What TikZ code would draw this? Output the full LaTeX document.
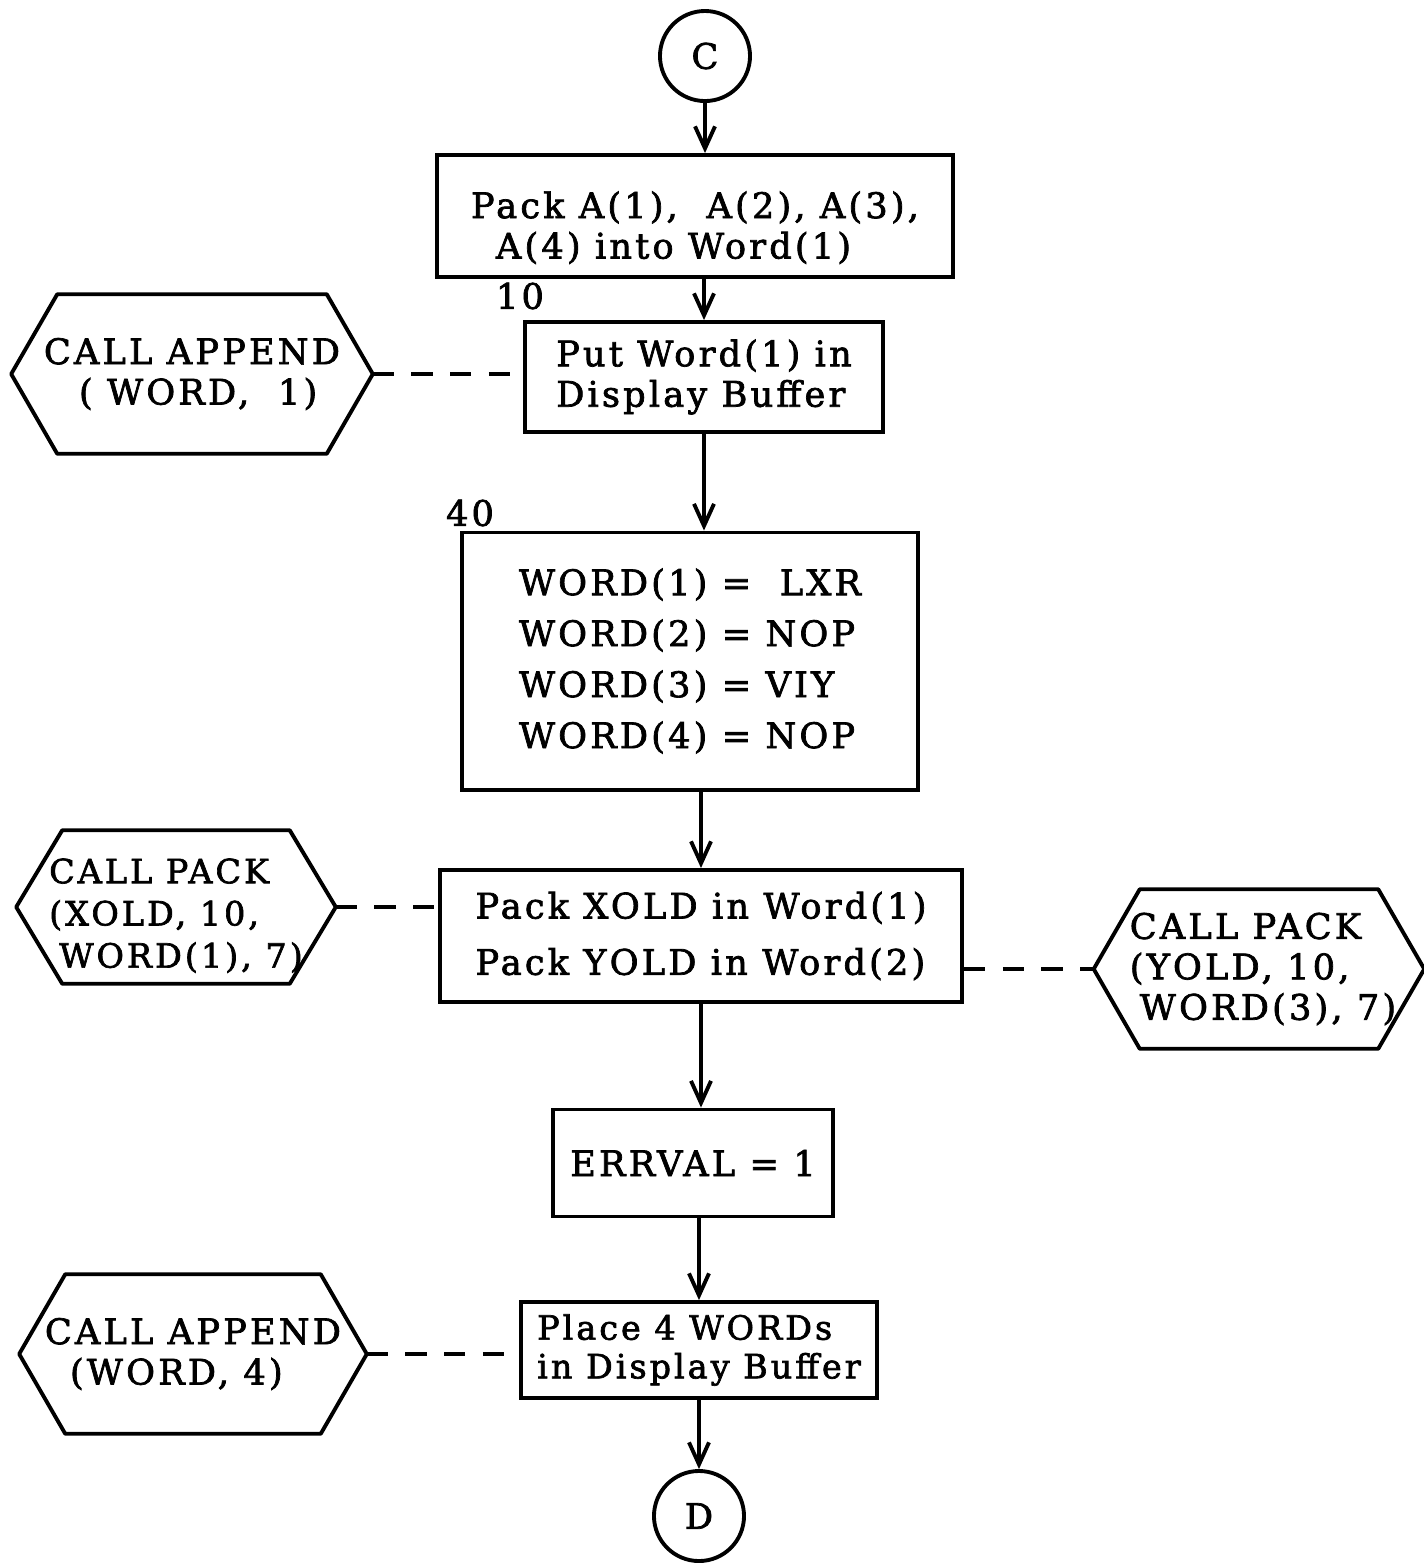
\documentclass[tikz,border=0pt]{standalone}
\usepackage{fontspec}
\setmainfont{DejaVu Serif}[LetterSpace=9,FakeBold=2]
\usetikzlibrary{arrows.meta}

\tikzset{
  box/.style={draw, rectangle, line width=1.1pt, align=left, inner sep=0pt},
  callbox/.style={rectangle, align=left, inner sep=0pt},
  offpage/.style={draw, circle, line width=1.1pt, minimum size=0.9cm, inner sep=0pt},
  conn/.style={line width=1.1pt, -{Straight Barb[length=2.2mm,width=2mm]}},
  callline/.style={line width=1.1pt, dash pattern=on 6pt off 5pt},
}

% hexagon round a call node, pointed left and right
\newcommand{\callhex}[1]{%
  \draw[line width=1.1pt, line join=round] (#1.west)
    -- ([xshift=0.46cm]#1.north west) -- ([xshift=-0.46cm]#1.north east)
    -- (#1.east)
    -- ([xshift=-0.46cm]#1.south east) -- ([xshift=0.46cm]#1.south west)
    -- cycle;}

\begin{document}
\begin{tikzpicture}[x=0.01cm, y=-0.01cm, font=\fontsize{10}{11.5}\selectfont]
      \useasboundingbox (0,0) rectangle (1424,1565);
      % main column
      \draw
        (705,56) node[offpage] (c){C}
        (695,216) node[box, minimum width=5.15cm, minimum height=1.22cm] (pack)
          {\rule{0pt}{0.5cm}Pack A(1),~ A(2), A(3),\\\hspace*{0.25cm}A(4) into Word(1)}
        (704,377) node[box, minimum width=3.58cm, minimum height=1.10cm] (put)
          {Put Word(1) in\\Display Buffer}
        (690,661) node[box, minimum width=4.56cm, minimum height=2.57cm] (words)
          {WORD(1) = ~LXR\\[3pt]WORD(2) = NOP\\[3pt]WORD(3) = VIY\\[3pt]WORD(4) = NOP}
        (701,936) node[box, minimum width=5.22cm, minimum height=1.32cm] (packxy)
          {Pack XOLD in Word(1)\\[4.5pt]Pack YOLD in Word(2)}
        (693,1163) node[box, minimum width=2.80cm, minimum height=1.07cm] (errval)
          {ERRVAL = 1}
        (699,1350) node[box, minimum width=3.56cm, minimum height=0.96cm,
          font=\fontsize{9.5}{11}\selectfont] (place)
          {Place 4 WORDs\\in Display Buffer}
        (699,1516) node[offpage] (d){D};
      % statement labels
      \draw
        (520,296) node (n10){10}
        (470,513) node (n40){40};
      % subroutine calls
      \draw
        (192,374) node[callbox, minimum width=3.60cm, minimum height=1.58cm] (app1)
          {CALL APPEND\\\hspace*{0.35cm}( WORD,~ 1)}
        (176,907) node[callbox, minimum width=3.18cm, minimum height=1.52cm,
          font=\fontsize{9.5}{12}\selectfont] (packx)
          {\rule{0pt}{0.42cm}CALL PACK\\(XOLD, 10,\\\hspace*{0.1cm}WORD(1), 7)}
        (1259,969) node[callbox, minimum width=3.29cm, minimum height=1.58cm] (packy)
          {\hspace*{0.08cm}CALL PACK\\\hspace*{0.08cm}(YOLD, 10,\\\hspace*{0.18cm}WORD(3), 7)}
        (193,1354) node[callbox, minimum width=3.46cm, minimum height=1.58cm] (app4)
          {CALL APPEND\\\hspace*{0.25cm}(WORD, 4)};
      \callhex{app1}
      \callhex{packx}
      \callhex{packy}
      \callhex{app4}
      \begin{scope}[conn]
        \draw (c) -- (c |- pack.north);
        \draw (put.north |- pack.south) -- (put.north);
        \draw (put.south) -- (put.south |- words.north);
        \draw (packxy.north |- words.south) -- (packxy.north);
        \draw (packxy.south) -- (packxy.south |- errval.north);
        \draw (place.north |- errval.south) -- (place.north);
        \draw (place.south) -- (d.north);
      \end{scope}
      \begin{scope}[callline]
        \draw (app1.east) -- (app1.east -| put.west);
        \draw (packx.east) -- (packx.east -| packxy.west);
        \draw (packxy.east |- packy.west) -- (packy.west);
        \draw (app4.east) -- (app4.east -| place.west);
      \end{scope}
    \end{tikzpicture}
\end{document}
